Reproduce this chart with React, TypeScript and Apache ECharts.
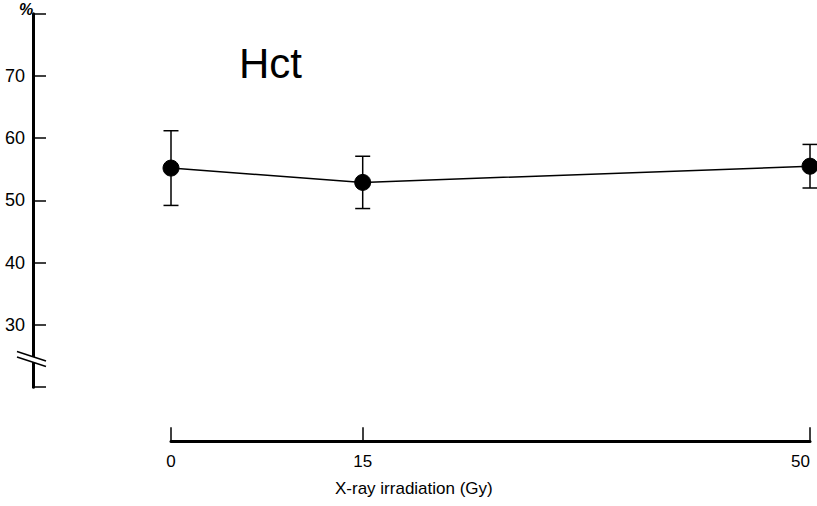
import React, { useEffect, useRef } from "react";
import * as echarts from "echarts";

const doses = [0, 15, 50];
const hctMean = [55.2, 52.9, 55.5];
const hctErr = [6.0, 4.2, 3.5];
const xTickValues = [0, 15, 50];
const yLabelValues = [30, 40, 50, 60, 70];
const yMin = 20;
const yMax = 80;
const chartTitle = "Hct";
const xTitle = "X-ray irradiation (Gy)";
const yUnit = "%";

const SANS = "'Liberation Sans', Arial, sans-serif";

export default function App() {
  const ref = useRef<HTMLDivElement>(null);
  useEffect(() => {
    document.body.style.margin = "0";
    if (!ref.current) return;
    const chart = echarts.init(ref.current, null, { renderer: "svg" });
    const errData = doses.map((d, i) => [d, hctMean[i] + hctErr[i], hctMean[i] - hctErr[i]]);
    chart.setOption({
      animation: false,
      backgroundColor: "#fff",
      grid: { left: 171, right: 7, top: 13.7, bottom: 118.8, containLabel: false, outerBoundsMode: "none" },
      title: {
        text: chartTitle,
        left: 234,
        top: 37,
        textStyle: { fontFamily: SANS, fontSize: 42, fontWeight: "normal", color: "#000" },
      },
      xAxis: {
        type: "value",
        min: 0,
        max: 50,
        offset: 54,
        splitLine: { show: false },
        axisLine: { show: true, onZero: false, lineStyle: { color: "#000", width: 3 } },
        axisTick: { show: true, inside: true, length: 14, customValues: xTickValues, lineStyle: { color: "#000", width: 1.5 } },
        axisLabel: {
          show: true,
          margin: 12,
          customValues: xTickValues,
          alignMaxLabel: "right",
          fontFamily: SANS,
          fontSize: 17,
          color: "#000",
        },
      },
      yAxis: {
        type: "value",
        min: yMin,
        max: yMax,
        interval: 10,
        offset: 138,
        splitLine: { show: false },
        axisLine: { show: true, onZero: false, lineStyle: { color: "#000", width: 3 } },
        axisTick: { show: true, inside: true, length: 13, lineStyle: { color: "#000", width: 1.5 } },
        axisLabel: {
          show: true,
          margin: 8,
          fontFamily: SANS,
          fontSize: 18,
          color: "#000",
          formatter: (v: number) => (yLabelValues.indexOf(v) >= 0 ? String(v) : ""),
        },
      },
      series: [
        {
          type: "custom",
          clip: false,
          data: errData,
          z: 2,
          renderItem: (params: any, api: any) => {
            const x = api.value(0);
            const top = api.coord([x, api.value(1)]);
            const bot = api.coord([x, api.value(2)]);
            const w = 7.5;
            const style = { stroke: "#000", lineWidth: 1.5 };
            return {
              type: "group",
              children: [
                { type: "line", shape: { x1: top[0], y1: top[1], x2: bot[0], y2: bot[1] }, style },
                { type: "line", shape: { x1: top[0] - w, y1: top[1], x2: top[0] + w, y2: top[1] }, style },
                { type: "line", shape: { x1: bot[0] - w, y1: bot[1], x2: bot[0] + w, y2: bot[1] }, style },
              ],
            };
          },
        },
        {
          type: "line",
          data: doses.map((d, i) => [d, hctMean[i]]),
          symbol: "circle",
          symbolSize: 16,
          clip: false,
          z: 3,
          lineStyle: { color: "#000", width: 1.5 },
          itemStyle: { color: "#000", borderColor: "#000" },
        },
      ],
      graphic: [
        {
          type: "text",
          left: 19,
          top: 1,
          style: { text: yUnit, fontFamily: SANS, fontSize: 16, fontStyle: "italic", fontWeight: "bold", fill: "#000" },
        },
        {
          type: "polygon",
          z: 100,
          shape: { points: [[17, 351.5], [46, 361], [46, 366.5], [17, 357]] },
          style: { fill: "#fff", stroke: "none" },
        },
        {
          type: "line",
          z: 101,
          shape: { x1: 17, y1: 351.5, x2: 46, y2: 361 },
          style: { stroke: "#000", lineWidth: 1.5 },
        },
        {
          type: "line",
          z: 101,
          shape: { x1: 17, y1: 357, x2: 46, y2: 366.5 },
          style: { stroke: "#000", lineWidth: 1.5 },
        },
        {
          type: "text",
          left: 335,
          top: 480,
          style: { text: xTitle, fontFamily: SANS, fontSize: 17, fill: "#000" },
        },
      ],
    });
    return () => chart.dispose();
  }, []);
  return <div ref={ref} style={{ width: 817, height: 506 }} />;
}
